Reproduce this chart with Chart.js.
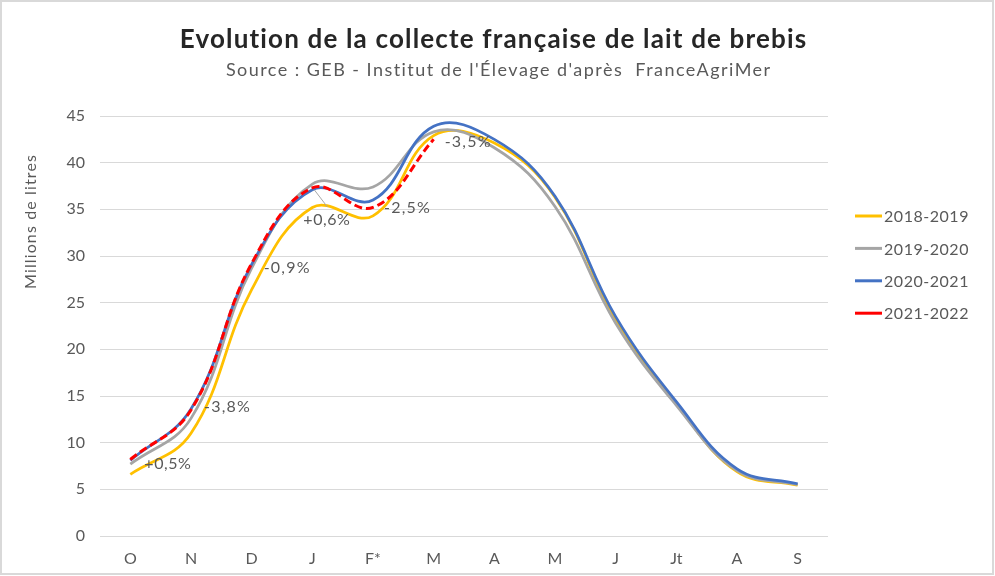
<!DOCTYPE html>
<html>
<head>
<meta charset="utf-8">
<script src="https://cdn.jsdelivr.net/npm/chart.js@4.4.1/dist/chart.umd.min.js"></script>
<style>
  html, body { margin: 0; padding: 0; background: #fff; }
</style>
</head>
<body>
<canvas id="myChart" width="995" height="576"></canvas>
<script>
const months = ['O', 'N', 'D', 'J', 'F*', 'M', 'A', 'M', 'J', 'Jt', 'A', 'S'];
const yTicks = [0, 5, 10, 15, 20, 25, 30, 35, 40, 45];

const c2018 = [6.6, 11.0, 26.4, 35.2, 34.3, 42.9, 42.1, 36.3, 23.2, 14.2, 6.9, 5.45];
const c2019 = [7.7, 12.6, 28.7, 37.7, 37.4, 43.3, 41.6, 35.3, 22.8, 14.0, 7.0, 5.5];
const c2020 = [8.1, 13.6, 29.1, 37.1, 36.0, 43.9, 42.5, 36.4, 23.5, 14.4, 7.2, 5.6];
const c2021 = [8.2, 13.5, 29.2, 37.3, 35.2, 42.5];

// variations of 2021-2022, shown next to each point of that series
const variations = ['+0,5%', '-3,8%', '-0,9%', '+0,6%', '-2,5%', '-3,5%'];
const varOffsets = [[14, 4], [13, -3], [12, 4], [-9, 32], [11, 0], [11, 3]];

const grey = '#595959';
const font = 'Lato, "Open Sans", sans-serif';

// write text stretched with letter spacing to a given width (the source font is wider)
function wideText(ctx, text, x, y, width) {
  ctx.letterSpacing = '0px';
  const w = ctx.measureText(text).width;
  const sp = Math.max(0, (width - w) / text.length);
  ctx.letterSpacing = sp + 'px';
  let x0 = x;
  if (ctx.textAlign === 'center') x0 = x + sp / 2;
  ctx.fillText(text, x0, y);
  ctx.letterSpacing = '0px';
}

const extras = {
  id: 'extras',
  afterDraw(chart) {
    const ctx = chart.ctx;
    ctx.save();
    // frame
    ctx.strokeStyle = '#d9d9d9';
    ctx.lineWidth = 2;
    ctx.strokeRect(1, 1, 992, 573);

    // titles
    ctx.textAlign = 'center';
    ctx.textBaseline = 'alphabetic';
    ctx.fillStyle = '#262626';
    ctx.font = 'bold 26px ' + font;
    wideText(ctx, 'Evolution de la collecte française de lait de brebis', 493, 48, 628);
    ctx.fillStyle = grey;
    ctx.font = '18px ' + font;
    wideText(ctx, "Source : GEB - Institut de l'Élevage d'après  FranceAgriMer", 498, 76, 546);

    // y axis title
    ctx.save();
    ctx.translate(31, 222);
    ctx.rotate(-Math.PI / 2);
    ctx.textBaseline = 'middle';
    ctx.font = '16px ' + font;
    wideText(ctx, 'Millions de litres', 0, 0, 135);
    ctx.restore();

    // legend
    ctx.textAlign = 'left';
    ctx.textBaseline = 'middle';
    ctx.font = '16px ' + font;
    chart.data.datasets.forEach((ds, i) => {
      const y = 216 + i * 32.4;
      ctx.strokeStyle = ds.borderColor;
      ctx.lineWidth = 3;
      ctx.setLineDash([]);
      ctx.beginPath();
      ctx.moveTo(855, y);
      ctx.lineTo(882, y);
      ctx.stroke();
      ctx.fillStyle = grey;
      wideText(ctx, ds.label, 884, y + 1, 85);
    });

    // variation labels
    const meta = chart.getDatasetMeta(3);
    ctx.font = '16px ' + font;
    ctx.fillStyle = grey;
    meta.data.forEach((pt, i) => {
      const [dx, dy] = varOffsets[i];
      if (i === 3) {
        ctx.strokeStyle = '#a6a6a6';
        ctx.lineWidth = 1;
        ctx.beginPath();
        ctx.moveTo(pt.x + 2, pt.y + 2);
        ctx.lineTo(pt.x + 15, pt.y + 19);
        ctx.stroke();
      }
      wideText(ctx, variations[i], pt.x + dx, pt.y + dy, 47);
    });
    ctx.restore();
  }
};

new Chart('myChart', {
  type: 'line',
  data: {
    labels: months,
    datasets: [
      { label: '2018-2019', data: c2018, borderColor: '#FFC000', borderWidth: 2.75, order: 4 },
      { label: '2019-2020', data: c2019, borderColor: '#A5A5A5', borderWidth: 2.75, order: 3 },
      { label: '2020-2021', data: c2020, borderColor: '#4472C4', borderWidth: 2.75, order: 2 },
      { label: '2021-2022', data: c2021, borderColor: '#FF0000', borderWidth: 3, borderDash: [8, 4], order: 1 }
    ]
  },
  options: {
    responsive: false,
    animation: false,
    layout: { padding: { top: 116, right: 167, left: 0, bottom: 0 } },
    elements: {
      line: { tension: 0.4, fill: false },
      point: { radius: 0, hoverRadius: 0 }
    },
    plugins: {
      legend: { display: false },
      tooltip: { enabled: false }
    },
    scales: {
      x: {
        offset: true,
        grid: { display: false, drawTicks: false },
        border: { display: false },
        ticks: { color: grey, font: { family: font, size: 16 }, padding: 13, maxRotation: 0 },
        afterFit(scale) { scale.height = 40; }
      },
      y: {
        min: 0,
        max: 45,
        afterBuildTicks(scale) { scale.ticks = yTicks.map(v => ({ value: v })); },
        grid: { color: '#d9d9d9', lineWidth: 1, drawTicks: false },
        border: { display: false },
        ticks: { color: grey, font: { family: font, size: 16 }, padding: 15 },
        afterFit(scale) { scale.width = 100; }
      }
    }
  },
  plugins: [extras]
});
</script>
</body>
</html>
